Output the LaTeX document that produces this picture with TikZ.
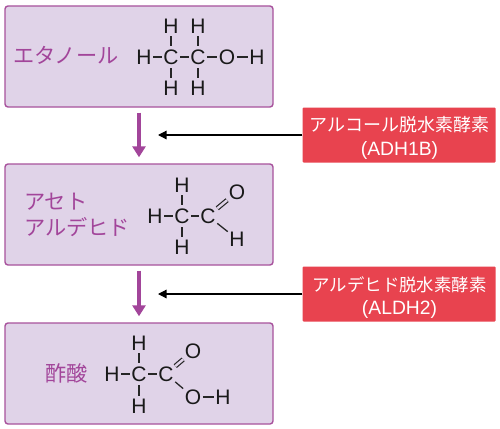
\documentclass[tikz,border=0pt]{standalone}
\usepackage{fontspec}
\setmainfont{Liberation Sans}
\newfontfamily\jpfont{Noto Sans CJK JP}
\usetikzlibrary{arrows.meta}
\definecolor{boxfill}{HTML}{E0D3E8}
\definecolor{boxline}{HTML}{A8529C}
\definecolor{purpletext}{HTML}{A2459A}
\definecolor{redbox}{HTML}{E8434F}
\tikzset{
  stagebox/.style={draw=boxline,line width=1.4pt,fill=boxfill,rounded corners=3pt,minimum width=268pt,minimum height=101pt,inner sep=0pt},
  enzyme/.style={fill=redbox,rounded corners=1pt,minimum width=193pt,minimum height=55pt,inner sep=0pt},
  enzymetext/.style={text=white,align=center,inner sep=0pt,font=\fontsize{18}{23.5}\selectfont},
  nametext/.style={text=purpletext,inner sep=0pt,align=left,font=\jpfont\fontsize{21.2}{26}\selectfont},
  atom/.style={inner xsep=1.5pt,inner ysep=3pt,text=black!90,font=\fontsize{21}{21}\selectfont},
  bond/.style={draw=black!85,line width=1.3pt},
  dbond/.style={draw=black!85,double=boxfill,double distance=2.4pt,line width=1.2pt},
  step arrow/.style={draw=purpletext,line width=3.6pt,-{Triangle[width=13pt,length=11pt]},shorten <=5pt,shorten >=6pt},
  inhibit/.style={draw=black,line width=1.2pt,-{Triangle[width=8.5pt,length=8.5pt]}}
}
\begin{document}
\begin{tikzpicture}[x=1pt,y=-1pt]
\useasboundingbox (0,0) rectangle (500,428);
\fill[white] (0,0) rectangle (500,428);
% boxes
\node[stagebox] (b1) at (139,56.5) {};
\node[stagebox] (b2) at (139,214.5) {};
\node[stagebox] (b3) at (139,373.5) {};
% arrows
\draw[step arrow] (b1.south) -- (b2.north);
\draw[step arrow] (b2.south) -- (b3.north);
% enzymes
\node[enzyme] (e1) at (399,135) {};
\node[enzyme] (e2) at (399,294) {};
\node[enzymetext] (e1t) at (399.5,138) {{\jpfont アルコール脱水素酵素}\\{\fontsize{19.3}{23.5}\selectfont (ADH1B)}};
\node[enzymetext] (e2t) at (399.5,297.5) {{\jpfont\fontsize{17.4}{23.5}\selectfont アルデヒド脱水素酵素}\\{\fontsize{19.3}{23.5}\selectfont (ALDH2)}};
\coordinate (t1) at (158,135);
\coordinate (t2) at (158,294);
\draw[inhibit] (e1.west) -- (t1);
\draw[inhibit] (e2.west) -- (t2);
% names
\node[nametext,anchor=west] (n1) at (13,55) {エタノール};
\node[nametext,anchor=west] (n2) at (24,215) {アセト\\アルデヒド};
\node[nametext,anchor=west] (n3) at (45,373) {酢酸};
% ethanol
\node[atom] (ah1) at (144,57) {H};
\node[atom] (ac1) at (171,57) {C};
\node[atom] (ac2) at (198,57) {C};
\node[atom] (ao) at (227,57) {O};
\node[atom] (ah2) at (257,57) {H};
\node[atom] (at1) at (171,26) {H};
\node[atom] (at2) at (198,26) {H};
\node[atom] (ab1) at (171,88) {H};
\node[atom] (ab2) at (198,88) {H};
\draw[bond] (ah1)--(ac1); \draw[bond] (ac1)--(ac2); \draw[bond] (ac2)--(ao); \draw[bond] (ao)--(ah2);
\draw[bond] (at1)--(ac1); \draw[bond] (at2)--(ac2); \draw[bond] (ab1)--(ac1); \draw[bond] (ab2)--(ac2);
% acetaldehyde
\node[atom] (bh1) at (155,216) {H};
\node[atom] (bc1) at (182,216) {C};
\node[atom] (bc2) at (208,216) {C};
\node[atom] (bt) at (182,185) {H};
\node[atom] (bb) at (182,247) {H};
\node[atom] (bo) at (237,192) {O};
\node[atom] (bh2) at (237,239) {H};
\draw[bond] (bh1)--(bc1); \draw[bond] (bc1)--(bc2); \draw[bond] (bt)--(bc1); \draw[bond] (bb)--(bc1);
\draw[dbond] (bc2)--(bo); \draw[bond] (bc2)--(bh2);
% acetic acid
\node[atom] (ch1) at (112,374) {H};
\node[atom] (cc1) at (139,374) {C};
\node[atom] (cc2) at (166,374) {C};
\node[atom] (ct) at (139,343) {H};
\node[atom] (cb) at (139,406) {H};
\node[atom] (co1) at (193,351) {O};
\node[atom] (co2) at (193,397) {O};
\node[atom] (ch2) at (223,397) {H};
\draw[bond] (ch1)--(cc1); \draw[bond] (cc1)--(cc2); \draw[bond] (ct)--(cc1); \draw[bond] (cb)--(cc1);
\draw[dbond] (cc2)--(co1); \draw[bond] (cc2)--(co2); \draw[bond] (co2)--(ch2);
\end{tikzpicture}
\end{document}
